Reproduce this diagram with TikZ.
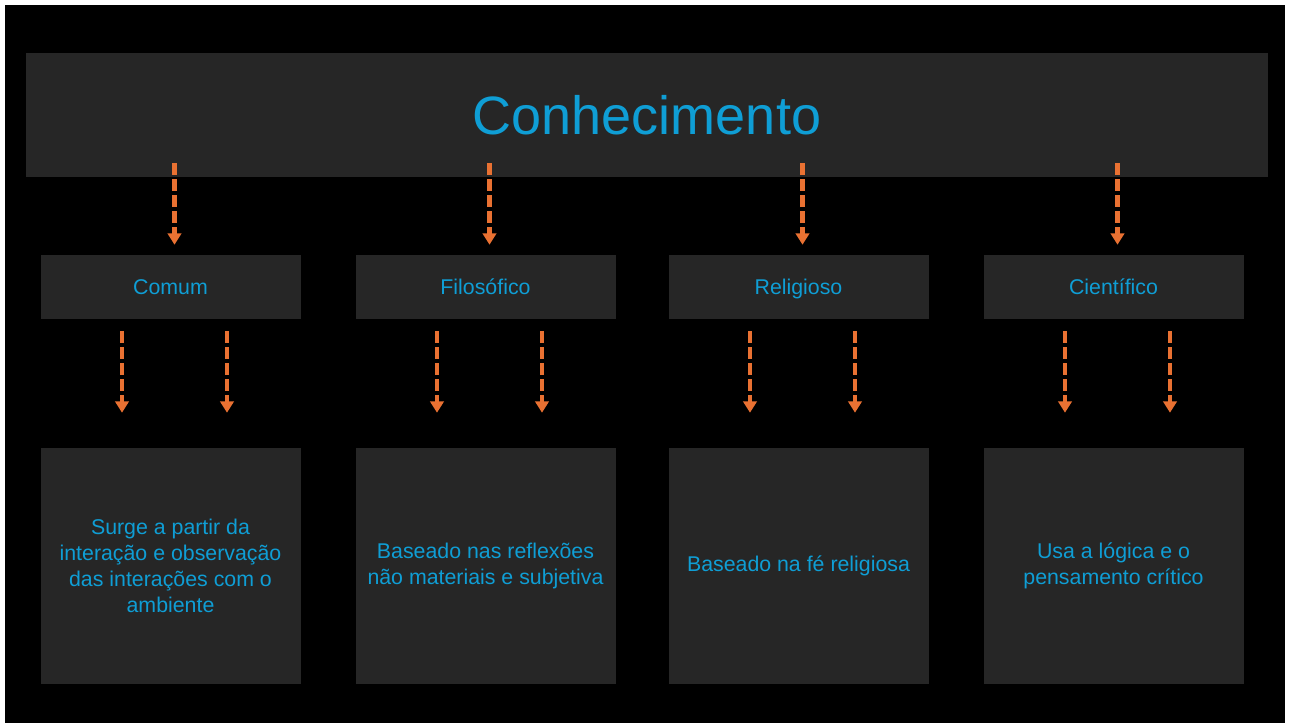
\documentclass[tikz,border=0pt]{standalone}
\usepackage{fontspec}
\setmainfont{Liberation Sans}
\usetikzlibrary{arrows.meta,calc}
\definecolor{panel}{HTML}{262626}
\definecolor{txtblue}{HTML}{0F9ED5}
\definecolor{arrorange}{HTML}{E97132}
\tikzset{
  box/.style={fill=panel, text=txtblue, inner sep=0pt, align=center,
    font=\fontsize{16}{19.5}\selectfont},
  kind/.style={box, minimum width=195pt, minimum height=48pt,
    text height=13pt, text depth=2pt},
  detail/.style={box, minimum width=195pt, minimum height=177pt},
  flow/.style={arrorange, line width=3.3pt, dash pattern=on 9pt off 3pt,
    -{Triangle[width=10pt,length=8.5pt]}}
}
\begin{document}
\begin{tikzpicture}[x=0.75pt, y=-0.75pt]
    \fill[white] (0,0) rectangle (1292,724);
    \fill[black] (5,5) rectangle (1285,723);
    \useasboundingbox (0,0) rectangle (1292,724);

    \node[box, minimum width=931.5pt, minimum height=93pt,
      font=\fontsize{40.5}{48}\selectfont] (top) at (647,115) {Conhecimento};

    \node[kind] (comum) at (170.5,287) {Comum};
    \node[kind] (filo) at (485.5,287) {Filosófico};
    \node[kind] (reli) at (798.5,287) {Religioso};
    \node[kind] (cien) at (1113.5,287) {Científico};

    \node[detail] (dcomum) at (170.5,566) {Surge a partir da\\interação e observação\\das interações com o\\ambiente};
    \node[detail] (dfilo) at (485.5,566) {Baseado nas reflexões\\não materiais e subjetiva};
    \node[detail] (dreli) at (798.5,566) {Baseado na fé religiosa};
    \node[detail] (dcien) at (1113.5,566) {Usa a lógica e o\\pensamento crítico};

    % arrows from the header
    \foreach \k in {comum,filo,reli,cien}{
        \coordinate (s-\k) at ($(top.south -| \k.north)+(4,-14)$);
        \coordinate (e-\k) at ($(\k.north)+(4,-10)$);
        \draw[flow] (s-\k) -- (e-\k);
    }

    % arrows towards the details
    \foreach \k/\d in {comum/dcomum,filo/dfilo,reli/dreli,cien/dcien}{
        \draw[flow] ($(\k.south)+(-48.5,12)$) -- ($(\d.north)+(-48.5,-35)$);
        \draw[flow] ($(\k.south)+(56.5,12)$) -- ($(\d.north)+(56.5,-35)$);
    }
\end{tikzpicture}
\end{document}
